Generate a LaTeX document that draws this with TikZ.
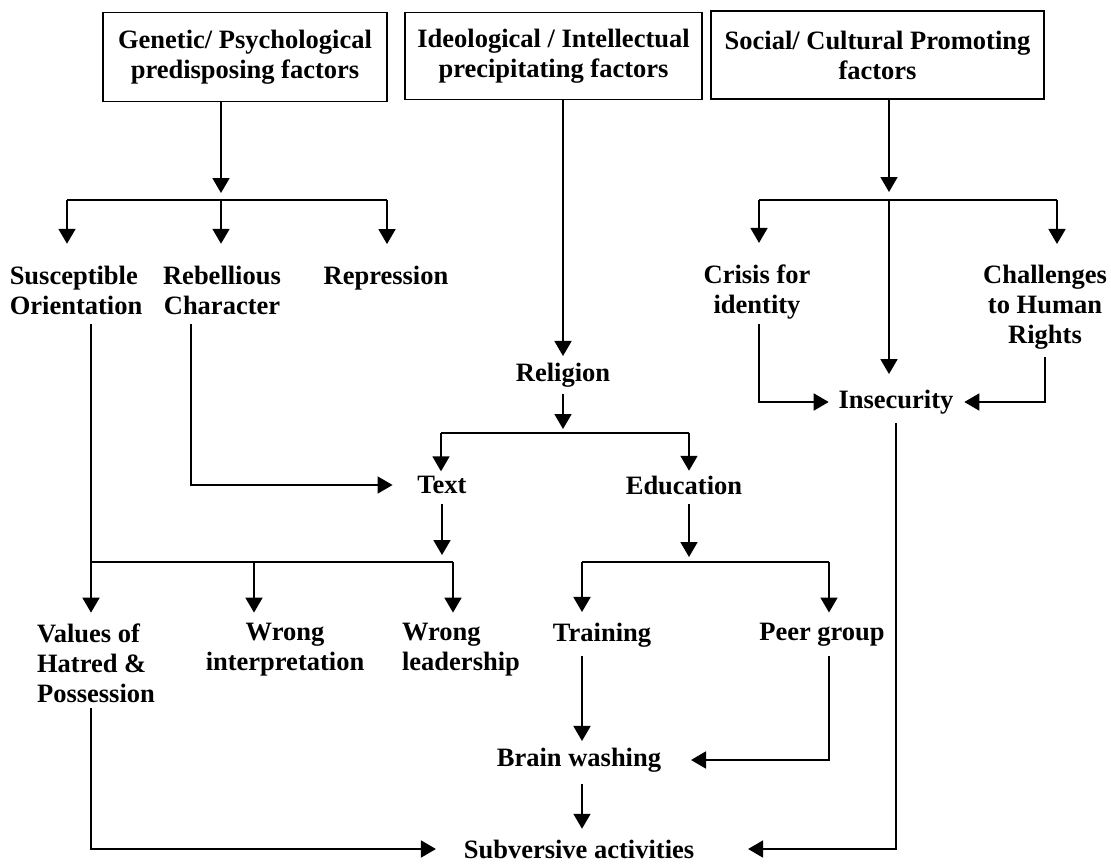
\documentclass[tikz,border=0pt]{standalone}
\usepackage{fontspec}
\setmainfont{Liberation Serif}
\usetikzlibrary{arrows.meta}

\begin{document}
\begin{tikzpicture}[x=1pt,y=-1pt,line width=1.8pt,
	factor/.style={rectangle,draw,align=center,font=\bfseries\fontsize{26.5}{30}\selectfont},
	cause/.style={align=center,inner sep=0pt,font=\bfseries\fontsize{26.5}{30}\selectfont},
	arr/.style={-{Triangle[length=15pt,width=17pt]}}]
	\useasboundingbox (0,0) rectangle (1111,863);
	% the three groups of factors
	\node[factor,minimum width=284pt,minimum height=89pt] (GP) at (245,57) {Genetic/ Psychological\\predisposing factors};
	\node[factor,minimum width=297pt,minimum height=87pt] (II) at (553.5,56) {Ideological / Intellectual\\precipitating factors};
	\node[factor,minimum width=333pt,minimum height=88pt] (SC) at (877.5,55) {Social/ Cultural Promoting\\factors};
	% causes
	\node[cause,align=left] (SO) at (76,290) {Susceptible\\Orientation};
	\node[cause] (RC) at (222,290) {Rebellious\\Character};
	\node[cause] (RP) at (386,278) {Repression};
	\node[cause] (CI) at (757,292) {Crisis for\\identity};
	\node[cause] (CH) at (1045,307) {Challenges\\to Human\\Rights};
	\node[cause] (RE) at (563,375) {Religion};
	\node[cause] (IN) at (896,402) {Insecurity};
	\node[cause] (TX) at (442,485) {Text};
	\node[cause] (ED) at (684,485) {Education};
	\node[cause,align=left] (VH) at (96,663) {Values of\\Hatred \&\\Possession};
	\node[cause] (WI) at (285,650) {Wrong\\interpretation};
	\node[cause,align=left] (WL) at (461,650) {Wrong\\leadership};
	\node[cause] (TR) at (602,635) {Training};
	\node[cause] (PG) at (822,635) {Peer group};
	\node[cause] (BW) at (579,760) {Brain washing};
	\node[cause] (SA) at (579,849) {Subversive activities};
	% branch points
	\coordinate (g1) at (67,200);
	\coordinate (g2) at (221,200);
	\coordinate (g3) at (387,200);
	\coordinate (s1) at (759,200);
	\coordinate (s2) at (889,200);
	\coordinate (s3) at (1057,200);
	\coordinate (r1) at (441,433);
	\coordinate (r2) at (689,433);
	\coordinate (t1) at (91,562);
	\coordinate (t2) at (254,562);
	\coordinate (t3) at (453,562);
	\coordinate (e1) at (582,562);
	\coordinate (e2) at (829,562);
	% genetic / psychological
	\draw[arr,shorten >=7pt] (GP.south -| g2) -- (g2);
	\draw (g1) -- (g3);
	\draw[arr,shorten >=21pt] (g1) -- (SO.north -| g1);
	\draw[arr,shorten >=21pt] (g2) -- (RC.north -| g2);
	\draw[arr,shorten >=21pt] (g3) -- (RP.north -| g3);
	% ideological / intellectual
	\draw[arr,shorten >=6pt] (II.south -| RE) -- (RE.north);
	\draw[arr,shorten <=6pt,shorten >=4pt] (RE.south) -- (RE |- r1);
	\draw (r1) -- (r2);
	\draw[arr,shorten >=4pt] (r1) -- (TX.north -| r1);
	\draw[arr,shorten >=4pt] (r2) -- (ED.north -| r2);
	\draw[arr,shorten <=9pt,shorten >=24pt] ([xshift=-31pt]RC.south) |- (TX.west);
	\draw[arr,shorten <=9pt,shorten >=7pt] (TX.south) -- (TX |- t1);
	\draw (t1) -- (t3);
	\draw[shorten <=9pt] (SO.south -| t1) -- (t1);
	\draw[arr,shorten >=10pt] (t1) -- (VH.north -| t1);
	\draw[arr,shorten >=10pt] (t2) -- (WI.north -| t2);
	\draw[arr,shorten >=10pt] (t3) -- (WL.north -| t3);
	\draw[arr,shorten <=9pt,shorten >=5pt] (ED.south -| r2) -- (r2 |- e1);
	\draw (e1) -- (e2);
	\draw[arr,shorten >=10pt] (e1) -- (TR.north -| e1);
	\draw[arr,shorten >=10pt] (e2) -- (PG.north -| e2);
	\draw[arr,shorten <=8pt,shorten >=6pt] (TR.south -| e1) -- (BW.north -| e1);
	\draw[arr,shorten <=8pt,shorten >=29pt] (PG.south -| e2) |- (BW.east);
	\draw[arr,shorten <=11pt,shorten >=10pt] (BW.south -| e1) -- (SA.north -| e1);
	% social / cultural
	\draw[arr,shorten >=8pt] (SC.south -| s2) -- (s2);
	\draw (s1) -- (s3);
	\draw[arr,shorten >=21pt] (s1) -- (CI.north -| s1);
	\draw[arr,shorten >=15pt] (s2) -- (IN.north -| s2);
	\draw[arr,shorten >=20pt] (s3) -- (CH.north -| s3);
	\draw[arr,shorten <=4pt,shorten >=9pt] (CI.south -| s1) |- (IN.west);
	\draw[arr,shorten <=7pt,shorten >=10pt] (CH.south) |- (IN.east);
	% to subversive activities
	\draw[arr,shorten <=8pt,shorten >=53pt] (IN.south) |- (SA.east);
	\draw[arr,shorten <=5pt,shorten >=27pt] (VH.south -| t1) |- (SA.west);
\end{tikzpicture}
\end{document}
